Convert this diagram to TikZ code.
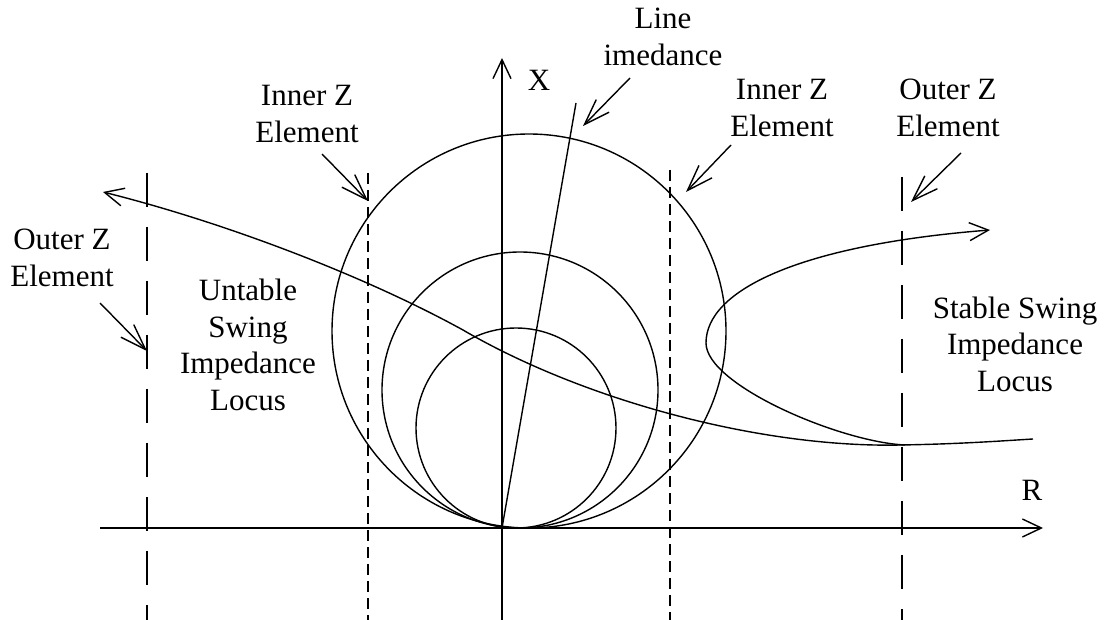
\documentclass[tikz,border=0pt]{standalone}
\usepackage{fontspec}
\setmainfont{Liberation Serif}
\usetikzlibrary{arrows.meta}

\begin{document}
\begin{tikzpicture}[x=1pt, y=-1pt,
        curve/.style={line width=1.4pt},
        axis/.style={line width=1.4pt, -{Straight Barb[length=19pt, width=18pt]}},
        callout/.style={line width=1.4pt, -{Straight Barb[length=26pt, width=18pt]}},
        innerz/.style={line width=1.4pt, dash pattern=on 11pt off 6pt},
        outerz/.style={line width=1.4pt, dash pattern=on 34pt off 20pt},
        zlabel/.style={font=\fontsize{31}{36.5}\selectfont, align=center, inner sep=0pt}
    ]
    \useasboundingbox (0,0) rectangle (1104,620);

    % --- axes ---
    \coordinate (O) at (502,528);
    \coordinate (Rl) at (100,528);
    \coordinate (Rr) at (1043,528);
    \coordinate (Xb) at (502,620);
    \coordinate (Xt) at (502,58);
    \draw[axis] (Rl)--(Rr);
    \draw[axis] (Xb)--(Xt);
    \node[zlabel] (Xlbl) at (539,80) {X};
    \node[zlabel] (Rlbl) at (1032,490) {R};

    % --- mho circles ---
    \draw[curve] (529,331) circle[radius=197pt];
    \draw[curve] (520,390) circle[radius=138pt];
    \draw[curve] (516,428) circle[radius=100pt];

    % --- line impedance ---
    \coordinate (Lt) at (576,103);
    \draw[curve] (O)--(Lt);
    \node[zlabel] (lineLbl) at (663,37) {Line\\imedance};
    \coordinate (lineTail) at (630,78);
    \coordinate (lineTip) at (583,126);
    \draw[callout] (lineTail)--(lineTip);

    % --- Z element blinders ---
    \draw[outerz] (147,173)--(147,620);
    \draw[innerz] (368,173)--(368,620);
    \draw[innerz] (670,170)--(670,620);
    \draw[outerz] (902,177)--(902,620);

    \node[zlabel] (outerL) at (62,258) {Outer Z\\Element};
    \node[zlabel] (innerL) at (307,114) {Inner Z\\Element};
    \node[zlabel] (innerR) at (782,108) {Inner Z\\Element};
    \node[zlabel] (outerR) at (948,108) {Outer Z\\Element};

    \coordinate (oLtail) at (100,303);
    \coordinate (oLtip) at (147,351);
    \coordinate (iLtail) at (322,154);
    \coordinate (iLtip) at (368,201);
    \coordinate (iRtail) at (731,145);
    \coordinate (iRtip) at (686,192);
    \coordinate (oRtail) at (961,153);
    \coordinate (oRtip) at (911,202);
    \draw[callout] (oLtail)--(oLtip);
    \draw[callout] (iLtail)--(iLtip);
    \draw[callout] (iRtail)--(iRtip);
    \draw[callout] (oRtail)--(oRtip);

    % --- swing loci ---
    \draw[curve, {Straight Barb[length=19pt, width=18pt]}-] (103,192)
        .. controls (223,222) and (363,275) .. (463,330)
        .. controls (583,400) and (760,448) .. (900,445)
        .. controls (960,444) and (1000,441) .. (1033,439);
    \draw[curve, -{Straight Barb[length=19pt, width=18pt]}] (905,445)
        .. controls (840,442) and (706,385) .. (706,343)
        .. controls (706,290) and (800,245) .. (990,230);

    \node[zlabel] (unstLbl) at (248,345) {Untable\\Swing\\Impedance\\Locus};
    \node[zlabel] (stLbl) at (1015,344) {Stable Swing\\Impedance\\Locus};

\end{tikzpicture}
\end{document}
